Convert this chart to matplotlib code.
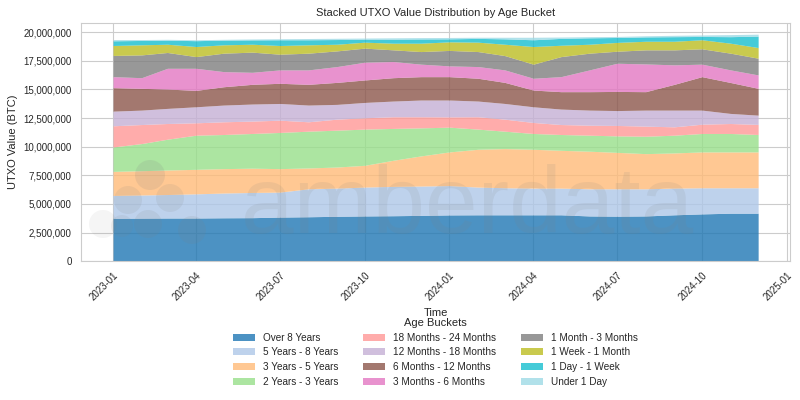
import matplotlib
matplotlib.use("Agg")
import matplotlib.pyplot as plt
import matplotlib.dates as mdates
import matplotlib.ticker as mticker
from matplotlib.patches import Ellipse
import numpy as np
import pandas as pd
import seaborn as sns

# monthly readings, millions of BTC
dates = pd.date_range("2023-01-01", "2024-12-01", freq="MS")

over_8y = [3.75, 3.76, 3.77, 3.77, 3.79, 3.80, 3.85, 3.88, 3.92, 3.95, 3.97, 4.00,
           4.04, 4.05, 4.05, 4.05, 4.05, 3.95, 3.93, 3.95, 4.05, 4.13, 4.19, 4.19]
y5_8 = [1.99, 2.02, 2.05, 2.11, 2.16, 2.20, 2.18, 2.44, 2.46, 2.52, 2.56, 2.56,
        2.56, 2.42, 2.36, 2.33, 2.33, 2.37, 2.39, 2.37, 2.33, 2.28, 2.22, 2.22]
y3_5 = [2.10, 2.12, 2.14, 2.14, 2.13, 2.12, 2.05, 1.82, 1.84, 1.90, 2.28, 2.63,
        2.94, 3.30, 3.42, 3.39, 3.30, 3.28, 3.18, 3.07, 3.07, 3.13, 3.13, 3.13]
y2_3 = [2.13, 2.37, 2.69, 2.98, 2.98, 3.03, 3.16, 3.21, 3.22, 3.16, 2.78, 2.45,
        2.16, 1.76, 1.52, 1.38, 1.38, 1.40, 1.44, 1.52, 1.55, 1.61, 1.61, 1.52]
m18_24 = [1.85, 1.66, 1.37, 1.08, 1.11, 1.08, 1.07, 0.82, 0.96, 0.99, 1.02, 0.97,
          0.90, 1.08, 1.05, 0.96, 0.87, 0.87, 0.91, 0.88, 0.73, 0.81, 0.87, 0.88]
m12_18 = [1.28, 1.26, 1.32, 1.40, 1.46, 1.49, 1.46, 1.46, 1.29, 1.34, 1.37, 1.46,
          1.47, 1.37, 1.37, 1.37, 1.35, 1.32, 1.30, 1.40, 1.46, 1.23, 0.88, 0.81]
m6_12 = [2.05, 1.90, 1.69, 1.43, 1.60, 1.72, 1.76, 1.81, 1.92, 1.96, 2.04, 2.04,
         2.04, 1.99, 1.84, 1.46, 1.52, 1.61, 1.67, 1.61, 2.25, 2.92, 2.70, 2.34]
m3_6 = [0.96, 0.93, 1.81, 1.93, 1.32, 1.05, 1.17, 1.26, 1.38, 1.55, 1.41, 1.09,
        0.94, 1.02, 1.09, 1.03, 1.31, 1.90, 2.46, 2.42, 1.70, 1.09, 1.10, 1.17]
m1_3 = [1.85, 1.99, 1.38, 1.02, 1.61, 1.76, 1.37, 1.46, 1.37, 1.23, 1.02, 1.10,
        1.35, 1.31, 1.25, 1.23, 1.75, 1.46, 1.05, 1.23, 1.31, 1.34, 1.46, 1.46]
w1_m1 = [0.87, 0.88, 0.72, 0.88, 0.73, 0.69, 0.76, 0.73, 0.58, 0.52, 0.58, 0.73,
         0.75, 0.82, 0.99, 1.54, 0.99, 0.78, 0.77, 0.75, 0.75, 0.79, 0.87, 0.93]
d1_w1 = [0.41, 0.38, 0.36, 0.51, 0.41, 0.38, 0.50, 0.44, 0.41, 0.26, 0.35, 0.37,
         0.26, 0.33, 0.47, 0.59, 0.60, 0.56, 0.43, 0.38, 0.40, 0.29, 0.57, 1.00]
under_1d = [0.11, 0.08, 0.07, 0.08, 0.07, 0.08, 0.09, 0.11, 0.11, 0.10, 0.12, 0.12,
            0.12, 0.10, 0.14, 0.22, 0.12, 0.10, 0.09, 0.10, 0.12, 0.13, 0.18, 0.17]

labels = ["Over 8 Years", "5 Years - 8 Years", "3 Years - 5 Years", "2 Years - 3 Years",
          "18 Months - 24 Months", "12 Months - 18 Months", "6 Months - 12 Months",
          "3 Months - 6 Months", "1 Month - 3 Months", "1 Week - 1 Month",
          "1 Day - 1 Week", "Under 1 Day"]
colors = ["#1f77b4", "#aec7e8", "#ffbb78", "#98df8a", "#ff9896", "#c5b0d5",
          "#8c564b", "#e377c2", "#7f7f7f", "#bcbd22", "#17becf", "#9edae5"]

series = [over_8y, y5_8, y3_5, y2_3, m18_24, m12_18, m6_12, m3_6, m1_3, w1_m1, d1_w1, under_1d]
values = np.array(series) * 1e6

sns.set_style("whitegrid")
plt.rcParams["font.family"] = ["Liberation Sans", "DejaVu Sans"]

fig, ax = plt.subplots(figsize=(8, 4), dpi=100)
fig.subplots_adjust(left=0.101, right=0.988, top=0.943, bottom=0.347)

ax.stackplot(dates, values, labels=labels, colors=colors, alpha=0.8, linewidth=0)

ax.set_title("Stacked UTXO Value Distribution by Age Bucket", fontsize=8, pad=5)
ax.set_xlabel("Time", fontsize=8, labelpad=4)
ax.set_ylabel("UTXO Value (BTC)", fontsize=8)
ax.yaxis.set_major_formatter(mticker.FuncFormatter(lambda v, p: f"{v:,.0f}"))
ax.xaxis.set_major_locator(mdates.MonthLocator(bymonth=[1, 4, 7, 10]))
ax.xaxis.set_major_formatter(mdates.DateFormatter("%Y-%m"))
ax.tick_params(axis="both", labelsize=7, pad=3)
for lbl in ax.get_xticklabels():
    lbl.set_rotation(45)
    lbl.set_ha("right")
    lbl.set_rotation_mode("anchor")

# watermark
fig.text(0.584, 0.417, "amberdata", fontsize=68, color="gray", alpha=0.12,
         ha="center", va="baseline")
for (cx, cy, r, a) in [(150, 175, 15, 0.15), (103, 224, 14, 0.08), (128, 200, 14, 0.12),
                       (170, 198, 14, 0.12), (148, 224, 14, 0.12), (192, 230, 14, 0.12),
                       (122, 226, 11, 0.10)]:
    fig.patches.append(Ellipse((cx / 800, 1 - cy / 400), 2 * r / 800, 2 * r / 400,
                               transform=fig.transFigure, color="gray", alpha=a, lw=0))

leg = ax.legend(loc="upper center", bbox_to_anchor=(0.5, -0.20), ncol=3, frameon=False,
                fontsize=7.2, title="Age Buckets", title_fontsize=8,
                labelspacing=0.48, columnspacing=2.5, handlelength=2.2)

fig.savefig("out.png", dpi=100)
